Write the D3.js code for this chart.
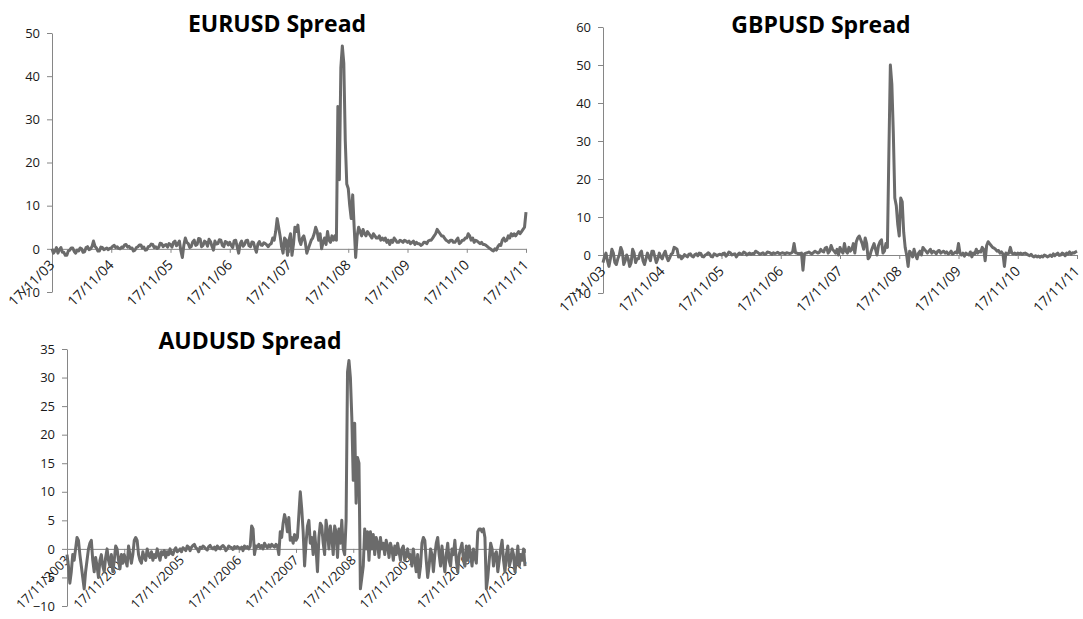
<!DOCTYPE html>
<html>
<head>
<meta charset="utf-8">
<script src="https://cdn.jsdelivr.net/npm/d3@7"></script>
<style>
  body { margin: 0; background: #fff; }
</style>
</head>
<body>
<div id="chart"></div>
<script>
// spreads, 40 points per year, Nov 2003 -> Nov 2011
const eurusdSpread = [
    0, -1, -0.5, 0.3, -1, -0.2, 0.3, -0.8, -0.8, -1.5, -1.5, -0.5, -0.3, 0.2, 0.2, -0.6, -1, -0.3, -0.5, 0.2,
    0, -0.8, -0.7, 0.3, 0.5, -0.2, 0, 0.5, 1.8, 0.6, 0.2, -0.5, -0.5, 0.4, 0.3, -0.2, 0, 0.2, -0.2, 0.1,
    0.2, 0.6, 0.8, 0.3, 0.5, 0.1, 0, 0.4, 0.3, 0.9, 1, 0.4, 0.6, 0.1, 0.2, -0.5, -0.3, 0.3, 0.5, 0.9,
    0.9, 0.2, 0.4, -0.3, -0.2, 0.5, 0.6, 1.1, 1, 0.3, 0.5, 0.1, 0.3, 1.3, 1.2, 0.5, 0.8, 1, 0.4, 1.2,
    1, 0.4, 1.5, 1.8, 0.7, 1.2, 1.8, -0.5, -2, 0.8, 2.5, 1.5, 1.2, 0.3, 0.5, 1.6, 2, 0.8, 1, 2.4,
    2.3, 0.5, 0.8, 1.8, 1.5, 0.6, 2.2, 1.7, 0.6, -0.3, 1.8, 1.1, 1.2, 2.1, 2, 0.8, 0.5, 1.7, 1.5, 0.9,
    1.5, 0.8, 0.3, 1.9, 2, 0.5, -1, 1.2, 1.8, 0.6, 1, 1.9, 2, 0.7, 0.5, 1.6, 1.5, 0.2, -0.8, 1.1,
    1.7, 0.9, 0.8, 1.4, 1.2, 0.9, 0.5, 1, 1.2, 2.5, 2, 4, 7, 5, 3, 0.5, -1, 2.5, 2, -1.5,
    2, 3.5, -1.5, 1, 5, 4, 5.5, 2, 1, 2.5, 3, 1.5, -1, 0, 1, 2, 2.5, 3.5, 5, 4,
    2, 3.5, 0, 1.5, 2.5, 1, 4, 2, 1.5, 3, 2, 3, 2, 33, 16, 42, 47, 43, 25, 15,
    14, 10, 7, 12.5, 5, -2, 3, 5, 4, 3, 4.5, 3.5, 3, 4, 3.5, 3, 2.5, 3.5, 3, 2.5,
    2.5, 3, 2, 2.5, 2, 2.5, 1.5, 2, 1, 2, 1.5, 2.5, 2, 1.5, 1.5, 2, 1.8, 1.5, 2, 1.8,
    1.5, 1.8, 1.2, 1.5, 1.8, 1, 1.5, 1.2, 1.2, 0.8, 1, 1.5, 1.5, 1.2, 1.8, 2, 2, 2.5, 3, 3.5,
    4.5, 4, 3.5, 3, 3, 2.5, 2, 1.8, 1.5, 2, 2, 1.5, 1.5, 2, 2.5, 1.2, 1.5, 2, 2, 2.5,
    2.5, 3.5, 3, 2, 2.5, 1.5, 2, 1.8, 1.5, 1.2, 1.5, 1, 1, 0.8, 0.5, 0.2, 0, -0.3, -0.5, 0,
    -0.3, 0.5, 1, 0.8, 2, 2.5, 1.8, 2, 3, 2.5, 3.5, 3, 3.5, 3, 3.5, 4, 3.5, 4, 4.5, 5, 8.5
];

const gbpusdSpread = [
    -2, -0.5, 0.5, -1.5, -3, -1, 1.5, 0.5, -2, -2.5, -1, 0, 2, 1, -2.5, -1.5, 0, -1, -3, -2,
    1.5, 0.5, -2, -1, -1, 0.5, 1, -1.5, -2.5, -1, 0.5, -0.5, -1.5, 1, 1, -0.5, -2, -1, 0.5, -0.5,
    -1, 0.2, 1, -0.5, -1.5, -0.8, 0.2, 0.5, 2, 1.8, 1.5, -0.5, -0.2, -1, -0.6, 0.1, -0.2, -0.5, 0.2, 0.3,
    -0.3, -0.5, 0.1, 0.3, -0.2, 0.5, 0.4, -0.4, -0.5, 0, 0.2, 0.6, 0.3, -0.4, -0.5, 0.3, 0.1, -0.2, 0.1, 0.2,
    0, 0.4, 0.5, -0.3, 0.1, 0.8, 0.6, 0, 0.2, 0.3, -0.5, 0.1, 0.5, 0.3, 0.2, 0.8, 0.6, 0, 0.3, 0.5,
    0.2, 0.4, 0.3, 1, 0.8, 0.5, 0.2, 0.4, 0.6, 0.2, 0.3, 0.8, 0.7, 0.5, 0.2, 0.6, 0.4, 0.5, 0.7, 0.4,
    0.4, 0.6, 0.5, 0.3, 0.6, 0.5, 0.4, 0.5, 0.8, 3, 0.6, 0.5, 0.3, 0.4, 0.5, -4, 0.3, 0.5, 0.6, 0.8,
    0.5, 0.3, 0.6, 1, 0.8, 0.5, 0.7, 1.5, 1, 0.8, 1.8, 2, 0.5, 1, 2.5, 1.5, 1, 0.5, 1.5, 0,
    2, 1, 0.5, 3, 1, 0.5, 2, 1, 1.5, 3, 0.5, 3.5, 4.5, 5, 4, 3, 1.5, 4.5, 3, -1,
    -0.5, 1, 2, 3, 1.5, 0, 2.5, 3.5, 4, 0.5, 1, 3, 2, 27, 50, 45, 32, 15, 13, 8,
    5, 15, 14, 6, 2, 0, -3, 1, 0.5, -0.5, 1.5, 0, -1, 0.5, 1, 0, 2, 1.5, 1, 0.5,
    1, 1.5, 0.5, 1, 0.8, 0.3, 1, 1.2, 0.5, 0.8, 1, 0.5, 0.8, 0.3, 0.5, 1, 0.2, 0.5, 0.8, 0.5,
    3, 0.5, 0, 0.5, -0.3, 0.5, 0.2, 0, 0.8, -0.5, 0.5, 0.3, 1.5, 0.5, 1, 0.8, 2, 1.5, -1.5, 2.5,
    3.5, 3, 2.5, 2, 1.8, 1.5, 1, 1.2, 0.5, 0.8, 0.3, -3, 0.5, 0.3, 0.5, 2, 0.5, 0.3, 0.5, 0.2,
    0.5, 0.3, 0.5, 0.2, 0.4, 0.5, 0.3, 0, -0.2, 0.2, -0.3, -0.5, -0.2, -0.5, -0.3, -0.6, -0.3, -0.5, 0, -0.2,
    -0.5, -0.3, 0, -0.4, 0.3, -0.2, 0.2, 0.5, -0.1, 0, 0.5, 0.3, -0.2, 0.5, 0.3, 0.8, 0.2, 0.6, 0.5, 0.8, 1
];

const audusdSpread = [
    -1, -3, -6, -4, -1, -2, 0, 2, 1.5, -1, -3, -5, -7, -4, -2, 0, 1, 1.5, -2, -4,
    -1.5, -3, -5, -2, -1, -3, -4, -1.5, 0, -2, -3, -1, -4, -2, 0.5, 0, -2, -3.5, -1, -2.5,
    -1, -2, -3, 0.5, -1, -2.5, -1, 1.5, 2, 1.5, -1, -2, -2.5, -0.5, -1.5, -2, 0, -1, -1.5, -0.5,
    -2, -1, -1.5, 0, -1, -2, -0.5, -1, -0.3, -1.5, -0.5, -1, 0, -0.8, -1, -0.2, 0.2, -0.5, -0.3, 0,
    -0.5, 0.2, 0, -0.3, 0.5, 0.3, -0.3, 0.3, 0.6, 0.8, 0.2, 0, -0.5, 0.3, 0.1, 0.5, 0.3, 0, -0.2, 0.4,
    0.6, 0.2, 0, 0.3, -0.2, 0.5, 0.2, 0, 0.4, 0.6, 0.3, -0.3, 0, 0.5, 0.3, 0.2, -0.1, 0.4, 0.2, 0.4,
    0.2, 0, 0.3, -0.3, 0.5, 0.2, 0.4, 0, 0.5, 4, 3.5, -1, 0.5, 0.3, 0.8, 0.2, 0.6, 0, 1, 0.5,
    0.2, 0.7, 0.3, 0.8, 0.5, 0.3, 0.8, 0.5, -1, 3, 2, 4.5, 6, 5, 3, 5.5, 1.5, 2, 1, 2.5,
    1.5, 2, 6, 10, 7, 3, -3, 1, 4, 5, 1, 2, -1, 3, 0, -4, 2, 4.5, 4, 1,
    -1, 5, 3, 0, 4, 2, -1, 4, 3, -1.5, 3.5, 1, 5, 0, -1, 5, 31, 33, 30, 23,
    12, 22, 8, 16, 15, -7, -5, -3, 3.5, 0, 3, -2, 3, 0, 2.5, -1, 2, 1, -1.5, 2,
    0, 1, -1, 1.5, 0.5, -1.5, 1, 0, -2, 0.5, -1, 1, -0.5, -2, 0, 0.5, -2, -1, 0, -1.5,
    -1, -3, 0, -2, -4, -1, -5, -3, 1, 2, 1.5, -2, -5, -3, 0, -1, -4, -1, 1, 2,
    -1, -3, 0.5, -2, -4, -1, 1, -2, -3, 0, -1, 1.5, -2, -4, -1, 0, 1, -2, -3, 0.5,
    -2, 0.5, -1, -3, 0, -1.5, -2.5, 3, 3.5, 3.5, 3, 3.5, 2, -7, -5, -2, 1, 0, -3, -1,
    -0.5, -4, -2, 0, 1.5, -2, -4, -1, 0.5, -3, -2, 0, -1, -4, -2, 0.5, -3, -1, -2, 0, -3
];

const shortDateLabels = ['17/11/03', '17/11/04', '17/11/05', '17/11/06', '17/11/07', '17/11/08', '17/11/09', '17/11/10', '17/11/11'];
const longDateLabels = ['17/11/2003', '17/11/2004', '17/11/2005', '17/11/2006', '17/11/2007', '17/11/2008', '17/11/2009', '17/11/2010', '17/11/2011'];

const eurusdTicks = [-10, 0, 10, 20, 30, 40, 50];
const gbpusdTicks = [-10, 0, 10, 20, 30, 40, 50, 60];
const audusdTicks = [-10, -5, 0, 5, 10, 15, 20, 25, 30, 35];

const pointsPerLabel = 40;

const width = 1083;
const height = 619;
const lineColor = '#6b6b6b';
const axisColor = '#868686';
const textFont = "'Open Sans', 'DejaVu Sans', sans-serif";

const svg = d3.select('#chart')
    .append('svg')
    .attr('width', width)
    .attr('height', height)
    .style('background', '#fff');

function drawPanel(cfg) {
    const g = svg.append('g');

    const x = d3.scaleLinear()
        .domain([0, cfg.values.length - 1])
        .range([cfg.left, cfg.right]);

    const y = d3.scaleLinear()
        .domain(d3.extent(cfg.yTicks))
        .range([cfg.bottom, cfg.top]);

    // y axis
    const yAxis = g.append('g')
        .attr('transform', `translate(${cfg.left},0)`)
        .call(d3.axisLeft(y).tickValues(cfg.yTicks).tickSize(5).tickSizeOuter(0).tickPadding(7));
    yAxis.select('.domain').attr('stroke', axisColor);
    yAxis.selectAll('.tick line').attr('stroke', axisColor);
    yAxis.selectAll('text')
        .style('font-family', textFont)
        .style('font-size', '13px')
        .attr('fill', '#1a1a1a');

    // x axis sits on the zero line
    const labelIdx = cfg.labels.map((d, i) => i * pointsPerLabel);
    const xAxis = g.append('g')
        .attr('transform', `translate(0,${y(0)})`)
        .call(d3.axisBottom(x).tickValues(labelIdx).tickFormat((d, i) => cfg.labels[i]).tickSize(4).tickSizeOuter(0));
    xAxis.select('.domain').attr('stroke', axisColor);
    xAxis.selectAll('.tick line').attr('stroke', axisColor);
    xAxis.selectAll('text')
        .attr('x', 0)
        .attr('y', 0)
        .attr('dy', 0)
        .attr('transform', `translate(${cfg.labelDx},${cfg.labelDy}) rotate(-45)`)
        .style('text-anchor', 'end')
        .style('font-family', textFont)
        .style('font-size', cfg.labelSize)
        .attr('fill', '#1a1a1a');

    const line = d3.line()
        .x((d, i) => x(i))
        .y(d => y(d));

    g.append('path')
        .datum(cfg.values)
        .attr('fill', 'none')
        .attr('stroke', lineColor)
        .attr('stroke-width', 3)
        .attr('stroke-linejoin', 'round')
        .attr('d', line);

    g.append('text')
        .attr('x', cfg.titleX)
        .attr('y', cfg.titleY)
        .attr('text-anchor', 'middle')
        .style('font-family', textFont)
        .style('font-size', '23px')
        .style('font-weight', 'bold')
        .attr('fill', '#000')
        .text(cfg.title);
}

drawPanel({
    title: 'EURUSD Spread', titleX: 277, titleY: 32,
    values: eurusdSpread, labels: shortDateLabels, yTicks: eurusdTicks,
    left: 52, right: 526, top: 33, bottom: 292, labelDx: 3, labelDy: 17, labelSize: '14px'
});

drawPanel({
    title: 'GBPUSD Spread', titleX: 821, titleY: 33,
    values: gbpusdSpread, labels: shortDateLabels, yTicks: gbpusdTicks,
    left: 603, right: 1077, top: 27, bottom: 293, labelDx: 3, labelDy: 17, labelSize: '14px'
});

drawPanel({
    title: 'AUDUSD Spread', titleX: 250, titleY: 349,
    values: audusdSpread, labels: longDateLabels, yTicks: audusdTicks,
    left: 67, right: 525, top: 349, bottom: 606, labelDx: 3, labelDy: 12, labelSize: '13px'
});
</script>
</body>
</html>
